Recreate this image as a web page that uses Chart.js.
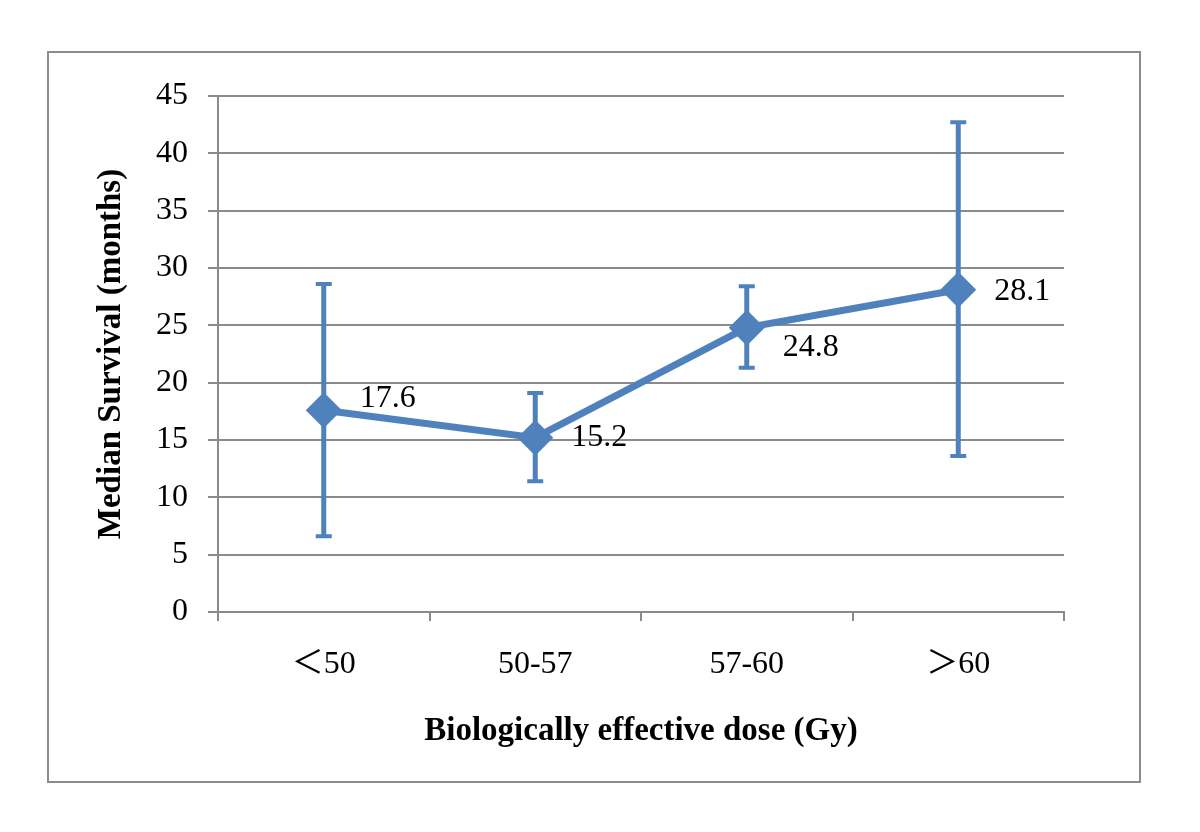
<!DOCTYPE html>
<html>
<head>
<meta charset="utf-8">
<script src="https://cdn.jsdelivr.net/npm/chart.js@4/dist/chart.umd.min.js"></script>
<style>
  html, body { margin: 0; padding: 0; background: #ffffff; }
  #frame { position: absolute; left: 47px; top: 51px; width: 1090px; height: 728px; border: 2px solid #8c8c8c; }
  #wrap { position: absolute; left: 0; top: 0; width: 1200px; height: 832px; }
</style>
</head>
<body>
<div id="frame"></div>
<div id="wrap"><canvas id="c" width="1200" height="832"></canvas></div>
<script>
const categories = ['\uFF1C50', '50-57', '57-60', '\uFF1E60'];
const medianSurvival = [17.6, 15.2, 24.8, 28.1];
const ciLower = [6.6, 11.4, 21.3, 13.6];
const ciUpper = [28.6, 19.1, 28.4, 42.7];
const yTicks = [0, 5, 10, 15, 20, 25, 30, 35, 40, 45];
const yTitle = 'Median Survival (months)';
const xTitle = 'Biologically effective dose (Gy)';

const blue = '#4F81BD';
const grid = '#8a8a8a';
const serif = "'Liberation Serif', 'Times New Roman', 'Noto Sans CJK JP', serif";
// label offsets (style only), in pixels relative to each point
const labelNudge = [[36, -12], [36, 0], [36, 20], [36, 2]];

const errorBars = {
  id: 'errorBars',
  beforeDatasetsDraw(chart) {
    const ctx = chart.ctx;
    const meta = chart.getDatasetMeta(0);
    const ys = chart.scales.y;
    ctx.save();
    ctx.strokeStyle = blue;
    meta.data.forEach((pt, i) => {
      const x = pt.x;
      const yl = ys.getPixelForValue(ciLower[i]);
      const yu = ys.getPixelForValue(ciUpper[i]);
      ctx.lineWidth = 5;
      ctx.beginPath(); ctx.moveTo(x, yl); ctx.lineTo(x, yu); ctx.stroke();
      ctx.lineWidth = 4;
      ctx.beginPath();
      ctx.moveTo(x - 8, yl); ctx.lineTo(x + 8, yl);
      ctx.moveTo(x - 8, yu); ctx.lineTo(x + 8, yu);
      ctx.stroke();
    });
    ctx.restore();
  }
};

const valueLabels = {
  id: 'valueLabels',
  afterDatasetsDraw(chart) {
    const ctx = chart.ctx;
    const meta = chart.getDatasetMeta(0);
    ctx.save();
    ctx.fillStyle = '#000';
    ctx.font = '32px ' + serif;
    ctx.textAlign = 'left';
    ctx.textBaseline = 'middle';
    meta.data.forEach((pt, i) => {
      ctx.fillText(medianSurvival[i].toFixed(1), pt.x + labelNudge[i][0], pt.y + labelNudge[i][1]);
    });
    ctx.restore();
  }
};

new Chart(document.getElementById('c'), {
  type: 'line',
  data: {
    labels: categories,
    datasets: [{
      data: medianSurvival,
      borderColor: blue,
      backgroundColor: blue,
      borderWidth: 7,
      pointStyle: 'rectRot',
      pointRadius: 18,
      pointHoverRadius: 18,
      pointBackgroundColor: blue,
      pointBorderColor: blue,
      pointBorderWidth: 0,
      tension: 0
    }]
  },
  options: {
    responsive: false,
    animation: false,
    events: [],
    layout: { padding: { left: 90, right: 136, top: 96, bottom: 50 } },
    plugins: { legend: { display: false }, tooltip: { enabled: false } },
    scales: {
      x: {
        offset: true,
        grid: { offset: true, drawOnChartArea: false, drawTicks: true, tickLength: 9, color: grid, lineWidth: 2 },
        border: { display: true, color: grid, width: 2 },
        ticks: { color: '#000', font: { family: serif, size: 32 }, padding: 24 },
        title: { display: true, text: xTitle, color: '#000', font: { family: serif, size: 33, weight: 'bold' }, padding: { top: 4, bottom: 31 } },
        afterFit(s) { s.height = 170; }
      },
      y: {
        min: 0, max: 45,
        afterBuildTicks(s) { s.ticks = yTicks.map(v => ({ value: v })); },
        grid: { color: grid, lineWidth: 2, tickLength: 10, drawTicks: true },
        border: { display: true, color: grid, width: 2 },
        ticks: { color: '#000', font: { family: serif, size: 32 }, padding: 20 },
        title: { display: true, text: yTitle, color: '#000', font: { family: serif, size: 33, weight: 'bold' }, padding: { top: 2, bottom: 4 } },
        afterFit(s) { s.width = 128; }
      }
    }
  },
  plugins: [errorBars, valueLabels]
});
</script>
</body>
</html>
